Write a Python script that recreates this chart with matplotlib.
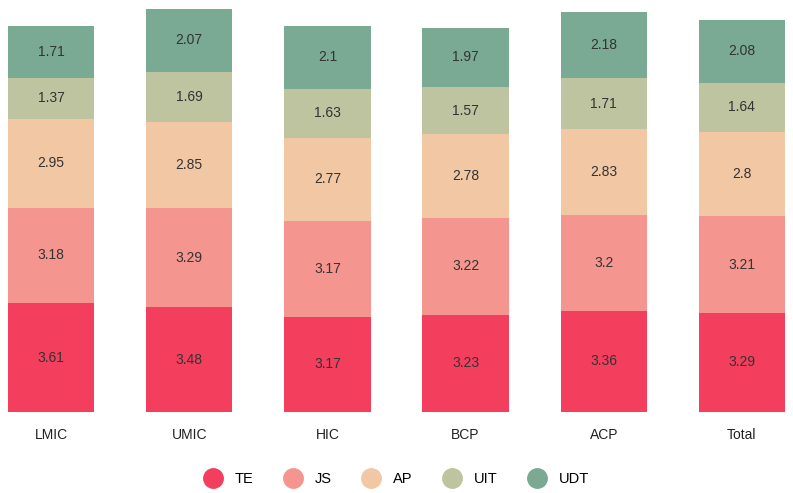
import matplotlib
matplotlib.use("Agg")
import matplotlib.pyplot as plt
from matplotlib.lines import Line2D

categories = ["LMIC", "UMIC", "HIC", "BCP", "ACP", "Total"]
series = ["TE", "JS", "AP", "UIT", "UDT"]
TE = [3.61, 3.48, 3.17, 3.23, 3.36, 3.29]
JS = [3.18, 3.29, 3.17, 3.22, 3.20, 3.21]
AP = [2.95, 2.85, 2.77, 2.78, 2.83, 2.80]
UIT = [1.37, 1.69, 1.63, 1.57, 1.71, 1.64]
UDT = [1.71, 2.07, 2.10, 1.97, 2.18, 2.08]
labels = {
    "TE": ["3.61", "3.48", "3.17", "3.23", "3.36", "3.29"],
    "JS": ["3.18", "3.29", "3.17", "3.22", "3.2", "3.21"],
    "AP": ["2.95", "2.85", "2.77", "2.78", "2.83", "2.8"],
    "UIT": ["1.37", "1.69", "1.63", "1.57", "1.71", "1.64"],
    "UDT": ["1.71", "2.07", "2.1", "1.97", "2.18", "2.08"],
}
colors = ["#F43E5E", "#F4968F", "#F2C7A3", "#BEC3A0", "#7BAA94"]

plt.rcParams["font.family"] = ["Liberation Sans", "DejaVu Sans"]

fig = plt.figure(figsize=(7.93, 4.93), dpi=100)
# bottom of bars at px 412, top of axes at px 5
ax = fig.add_axes([0, (493 - 412) / 493, 1, (412 - 5) / 493])

x = list(range(len(categories)))
bottom = [0.0] * len(categories)
for name, vals, c in zip(series, [TE, JS, AP, UIT, UDT], colors):
    ax.bar(x, vals, width=0.625, bottom=bottom, color=c, linewidth=0)
    for i, v in enumerate(vals):
        ax.text(i, bottom[i] + v / 2, labels[name][i], ha="center", va="center",
                fontsize=10, color="#333333")
    bottom = [b + v for b, v in zip(bottom, vals)]

ax.set_xlim(-0.37, 5.37)
ax.set_ylim(0, 407 / 30.1)
ax.axis("off")

for i, cat in enumerate(categories):
    ax.text(i, -0.78, cat, ha="center", va="center", fontsize=10, color="#222222")

handles = [Line2D([], [], marker="o", linestyle="", markersize=14,
                  markerfacecolor=c, markeredgecolor=c, label=s)
           for s, c in zip(series, colors)]
fig.legend(handles=handles, loc="center", bbox_to_anchor=(0.50, 1 - 479 / 493),
           ncol=5, frameon=False, fontsize=10.5, handletextpad=0.9, columnspacing=2.1,
           handlelength=1.2)

plt.savefig("out.png", dpi=100)
